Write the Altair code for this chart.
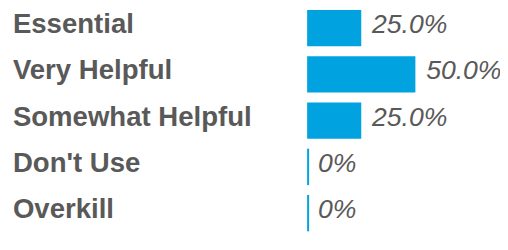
import altair as alt
import pandas as pd

categories = ["Essential", "Very Helpful", "Somewhat Helpful", "Don't Use", "Overkill"]
values = [25.0, 50.0, 25.0, 0.0, 0.0]
labels = ["25.0%", "50.0%", "25.0%", "0%", "0%"]

df = pd.DataFrame({"cat": categories, "value": values, "label": labels})

BLUE = "#00A3E0"
GREY = "#595959"

yscale = alt.Scale(paddingInner=10 / 47, paddingOuter=0)
y_plain = alt.Y("cat:N", sort=categories, scale=yscale, axis=None)
x = alt.X("value:Q", scale=alt.Scale(domain=[0, 60], nice=False, zero=True), axis=None)

base = alt.Chart(df)
bars = base.mark_bar(color=BLUE).encode(x=x, y=y_plain)
zero = base.transform_filter("datum.value == 0").mark_tick(
    color=BLUE, thickness=2, size=37, xOffset=1, opacity=1
).encode(x=x, y=y_plain)
text = base.mark_text(
    align="left", baseline="middle", dx=11, dy=-3, font="Liberation Sans",
    fontSize=27, fontStyle="italic", color=GREY
).encode(x=x, y=y_plain, text="label:N")
cats = base.mark_text(
    align="left", baseline="middle", dy=-3, font="Liberation Sans",
    fontSize=28, fontWeight="bold", color=GREY
).encode(x=alt.value(-299), y=y_plain, text="cat:N")

chart = (
    alt.layer(bars, zero, text, cats)
    .properties(width=132, height=225,
                autosize=alt.AutoSizeParams(type="none"),
                padding={"left": 304, "top": 0, "right": 64, "bottom": 17},
                background="white")
    .configure_view(stroke=None)
)

chart.save("out.html", embed_options={"renderer": "svg", "actions": False})
